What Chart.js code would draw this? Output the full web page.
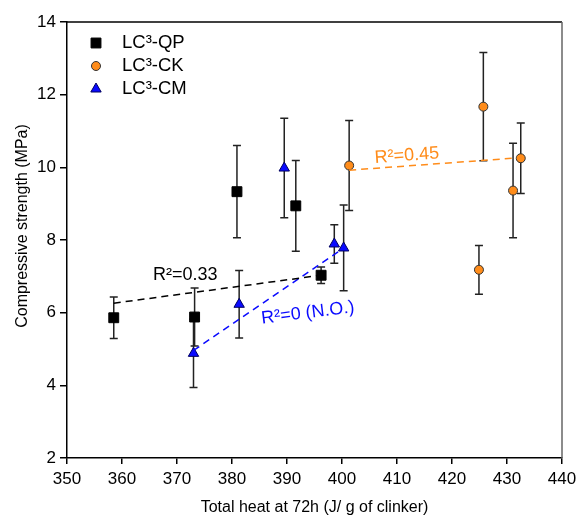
<!DOCTYPE html>
<html>
<head>
<meta charset="utf-8">
<script src="https://cdn.jsdelivr.net/npm/chart.js@4/dist/chart.umd.min.js"></script>
<style>
  html, body { margin: 0; padding: 0; background: #fff; }
  #wrap { width: 576px; height: 518px; }
</style>
</head>
<body>
<div id="wrap"><canvas id="chart" width="576" height="518"></canvas></div>
<script>
// LC3-QP (squares)
var qpX = [358.5, 373.2, 380.9, 391.6, 396.2];
var qpY = [5.86, 5.88, 9.33, 8.94, 7.03];
var qpErr = [0.57, 0.8, 1.27, 1.25, 0.23];

// LC3-CK (circles)
var ckX = [401.3, 425.7, 431.1, 432.5, 424.9];
var ckY = [10.05, 11.67, 9.36, 10.25, 7.18];
var ckErr = [1.24, 1.49, 1.3, 0.97, 0.67];

// LC3-CM (triangles)
var cmX = [373.0, 381.3, 389.5, 398.6, 400.3];
var cmY = [4.88, 6.23, 9.98, 7.89, 7.78];
var cmErr = [0.94, 0.93, 1.37, 0.53, 1.18];

// fitted lines (end points)
var qpFitX = [358.5, 396.2], qpFitY = [6.26, 7.03];
var cmFitX = [373.0, 400.3], cmFitY = [4.96, 7.78];
var ckFitX = [401.3, 433.6], ckFitY = [9.92, 10.28];

var xTicks = [350, 360, 370, 380, 390, 400, 410, 420, 430, 440];
var yTicks = [2, 4, 6, 8, 10, 12, 14];

var FONT = '"Liberation Sans", Arial, sans-serif';
var ORANGE = '#ff8c1a';
var BLUE = '#0a0aff';

function pts(xs, ys, err) {
    return xs.map(function (x, i) {
        var p = {x: x, y: ys[i]};
        if (err) p.err = err[i];
        return p;
    });
}

var r2Labels = [
    {text: 'R\u00b2=0.33', x: 371.5, y: 7.04, color: '#000', angle: 0},
    {text: 'R\u00b2=0 (N.O.)', x: 393.8, y: 5.99, color: BLUE, angle: -7},
    {text: 'R\u00b2=0.45', x: 411.8, y: 10.32, color: ORANGE, angle: -4}
];

var legendItems = [
    {text: 'LC\u00b3-QP', style: 'rect', radius: 7, fill: '#000', stroke: '#000'},
    {text: 'LC\u00b3-CK', style: 'circle', radius: 4.5, fill: ORANGE, stroke: '#333'},
    {text: 'LC\u00b3-CM', style: 'triangle', radius: 6, fill: BLUE, stroke: '#000060'}
];

// error bars under the markers
var errorBars = {
    id: 'errorBars',
    beforeDatasetsDraw: function (chart) {
        var ctx = chart.ctx, ys = chart.scales.y;
        ctx.save();
        ctx.strokeStyle = '#222';
        ctx.lineWidth = 1.5;
        chart.data.datasets.forEach(function (ds, di) {
            if (!ds.errorBars) return;
            var meta = chart.getDatasetMeta(di);
            ds.data.forEach(function (p, i) {
                var px = meta.data[i].x;
                var top = ys.getPixelForValue(p.y + p.err);
                var bot = ys.getPixelForValue(p.y - p.err);
                ctx.beginPath();
                ctx.moveTo(px, top); ctx.lineTo(px, bot);
                ctx.moveTo(px - 4, top); ctx.lineTo(px + 4, top);
                ctx.moveTo(px - 4, bot); ctx.lineTo(px + 4, bot);
                ctx.stroke();
            });
        });
        ctx.restore();
    }
};

// R² texts, frame, axis titles and legend
var extras = {
    id: 'extras',
    afterDraw: function (chart) {
        var ctx = chart.ctx, a = chart.chartArea;
        var xs = chart.scales.x, ys = chart.scales.y;
        ctx.save();
        // top and right border
        ctx.lineWidth = 1.5;
        ctx.strokeStyle = '#000';
        ctx.beginPath();
        ctx.moveTo(a.left, a.top); ctx.lineTo(a.right, a.top);
        ctx.stroke();
        ctx.strokeStyle = '#666';
        ctx.beginPath();
        ctx.moveTo(a.right, a.top); ctx.lineTo(a.right, a.bottom);
        ctx.stroke();

        ctx.textAlign = 'center';
        ctx.textBaseline = 'middle';
        ctx.fillStyle = '#000';
        ctx.font = '16px ' + FONT;

        // x axis title
        ctx.fillText('Total heat at 72h (J/ g of clinker)', (a.left + a.right) / 2, a.bottom + 50);

        // y axis title
        ctx.save();
        ctx.translate(23, (a.top + a.bottom) / 2 - 14);
        ctx.rotate(-Math.PI / 2);
        ctx.fillText('Compressive strength (MPa)', 0, 0);
        ctx.restore();

        ctx.font = '18px ' + FONT;
        r2Labels.forEach(function (l) {
            ctx.save();
            ctx.translate(xs.getPixelForValue(l.x), ys.getPixelForValue(l.y));
            ctx.rotate(l.angle * Math.PI / 180);
            ctx.fillStyle = l.color;
            ctx.fillText(l.text, 0, 0);
            ctx.restore();
        });

        ctx.textAlign = 'left';
        ctx.font = '18.5px ' + FONT;
        legendItems.forEach(function (it, i) {
            var cx = a.left + 29, cy = a.top + 21 + i * 23;
            ctx.fillStyle = it.fill;
            ctx.strokeStyle = it.stroke;
            ctx.lineWidth = 1;
            Chart.helpers.drawPoint(ctx, {pointStyle: it.style, radius: it.radius, borderWidth: 1}, cx, cy);
            ctx.fillStyle = '#000';
            ctx.fillText(it.text, a.left + 55, cy);
        });
        ctx.restore();
    }
};

function fitLine(xs, ys, color) {
    return {
        data: pts(xs, ys),
        showLine: true,
        borderColor: color,
        borderWidth: 1.5,
        borderDash: [7, 5],
        pointRadius: 0,
        fill: false
    };
}

new Chart(document.getElementById('chart'), {
    type: 'scatter',
    data: {
        datasets: [
            fitLine(qpFitX, qpFitY, '#000'),
            fitLine(cmFitX, cmFitY, BLUE),
            fitLine(ckFitX, ckFitY, ORANGE),
            {
                label: 'LC3-QP', data: pts(qpX, qpY, qpErr), errorBars: true,
                pointStyle: 'rect', pointRadius: 7, backgroundColor: '#000', borderColor: '#000', borderWidth: 1
            },
            {
                label: 'LC3-CK', data: pts(ckX, ckY, ckErr), errorBars: true,
                pointStyle: 'circle', pointRadius: 4.5, backgroundColor: ORANGE, borderColor: '#333', borderWidth: 1
            },
            {
                label: 'LC3-CM', data: pts(cmX, cmY, cmErr), errorBars: true,
                pointStyle: 'triangle', pointRadius: 6, backgroundColor: BLUE, borderColor: '#000060', borderWidth: 1
            }
        ]
    },
    options: {
        responsive: false,
        animation: false,
        layout: {padding: {top: 22, right: 14, left: 0, bottom: 0}},
        plugins: {legend: {display: false}, tooltip: {enabled: false}},
        scales: {
            x: {
                type: 'linear', min: 350, max: 440,
                afterBuildTicks: function (s) { s.ticks = xTicks.map(function (v) { return {value: v}; }); },
                afterFit: function (s) { s.height = 60; s.paddingLeft = 0; s.paddingRight = 0; },
                grid: {display: true, drawOnChartArea: false, drawTicks: true, tickLength: 6, color: '#000', lineWidth: 1.5},
                border: {display: true, color: '#000', width: 1.5},
                ticks: {color: '#000', font: {family: FONT, size: 17}, padding: 5, maxRotation: 0},
            },
            y: {
                type: 'linear', min: 2, max: 14,
                afterBuildTicks: function (s) { s.ticks = yTicks.map(function (v) { return {value: v}; }); },
                afterFit: function (s) { s.width = 67; s.paddingTop = 0; s.paddingBottom = 0; },
                grid: {display: true, drawOnChartArea: false, drawTicks: true, tickLength: 7, color: '#000', lineWidth: 1.5},
                border: {display: true, color: '#000', width: 1.5},
                ticks: {color: '#000', font: {family: FONT, size: 17}, padding: 4}
            }
        }
    },
    plugins: [errorBars, extras]
});
</script>
</body>
</html>
